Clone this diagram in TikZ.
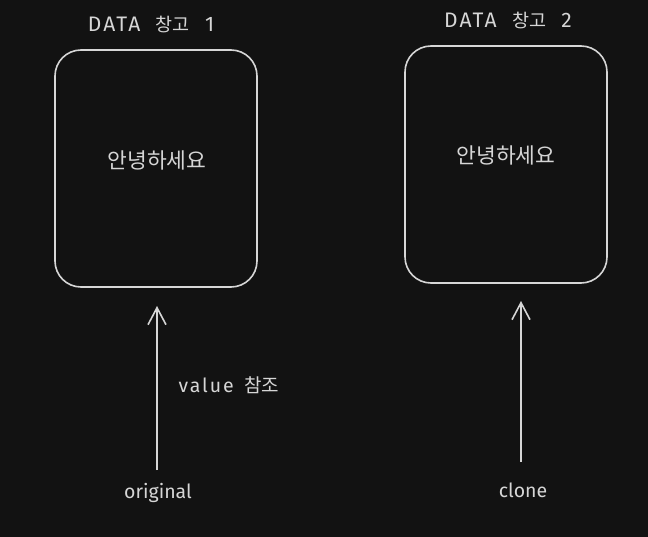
\documentclass[tikz,border=0pt]{standalone}
\usepackage{fontspec}
\setmainfont{Fira Sans}
\newfontfamily\kr{Noto Sans CJK KR}
\newfontfamily\wide[LetterSpace=10]{Fira Sans}
\usetikzlibrary{arrows.meta}
\definecolor{bg}{HTML}{121212}
\definecolor{ink}{HTML}{D6D6D6}
\newcommand{\krs}[1]{{\kr\fontsize{18.5}{20}\selectfont #1}}
\tikzset{
  box/.style={draw=ink, line width=1.6pt, rounded corners=26pt, minimum width=202pt, minimum height=237pt, inner sep=0pt},
  title/.style={text=ink, font=\wide\fontsize{21}{24}\selectfont},
  lbl/.style={text=ink, font=\fontsize{19.5}{22}\selectfont},
  arr/.style={draw=ink, line width=1.6pt, -{Straight Barb[length=17pt,width=18pt,line width=1.6pt]}},
}
\begin{document}
\begin{tikzpicture}[x=1pt,y=-1pt]
\fill[bg] (0,0) rectangle (648,537);
\useasboundingbox (0,0) rectangle (648,537);
\node[box] (b1) at (156,168.5) {};
\node[box] (b2) at (506,164.5) {};
\node[title] (t1) at (151,25) {DATA\ \ \krs{창고}\ \ 1};
\node[title] (t2) at (508,21) {DATA\ \ \krs{창고}\ \ 2};
\node[lbl, font=\kr\fontsize{21.5}{24}\selectfont] (h1) at (157,160) {안녕하세요};
\node[lbl, font=\kr\fontsize{21.5}{24}\selectfont] (h2) at (506,155) {안녕하세요};
\coordinate (a1s) at (157,470);
\coordinate (a1e) at (157,306);
\coordinate (a2s) at (521,462);
\coordinate (a2e) at (521,301);
\draw[arr] (a1s) -- (a1e);
\draw[arr] (a2s) -- (a2e);
\node[lbl, anchor=west] (v) at (175,385) {{\wide value}\ \ {\kr\fontsize{19}{22}\selectfont 참조}};
\node[lbl] (o) at (158,493) {original};
\node[lbl] (c) at (523,490) {clone};
\end{tikzpicture}
\end{document}
